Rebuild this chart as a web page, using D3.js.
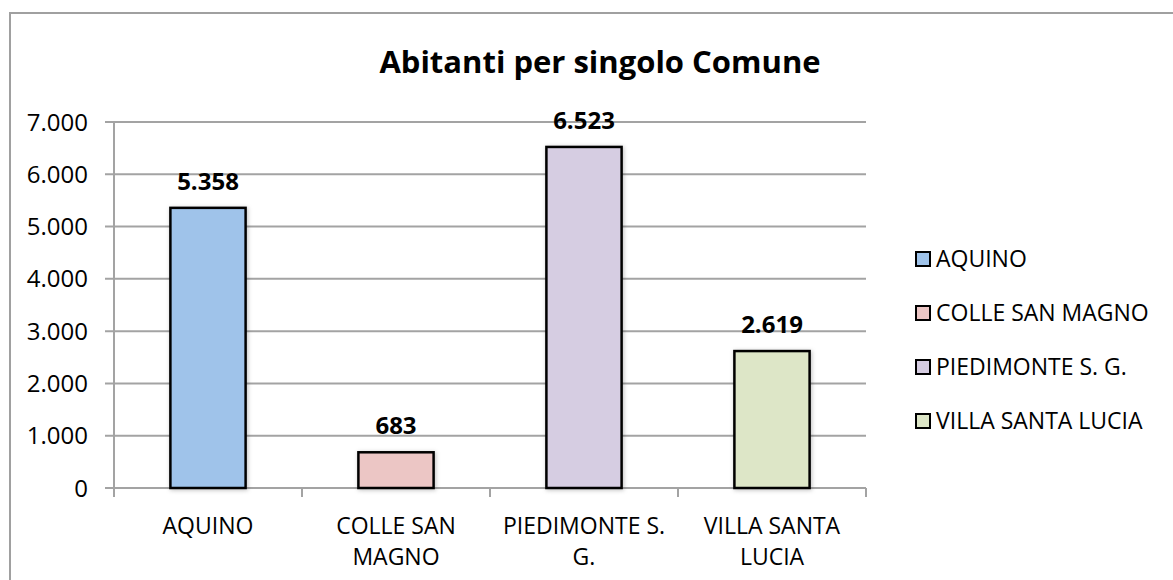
<!DOCTYPE html>
<html>
<head>
<meta charset="utf-8">
<script src="https://cdn.jsdelivr.net/npm/d3@7"></script>
<style>
    body { margin: 0; background: #fff; }
    svg text { font-family: "Open Sans", "Liberation Sans", sans-serif; fill: #000; }
</style>
</head>
<body>
<svg id="chart" width="1173" height="580"></svg>
<script>
// data
var comuni = ["AQUINO", "COLLE SAN MAGNO", "PIEDIMONTE S. G.", "VILLA SANTA LUCIA"];
var labelRows = [["AQUINO"], ["COLLE SAN", "MAGNO"], ["PIEDIMONTE S.", "G."], ["VILLA SANTA", "LUCIA"]];
var abitanti = [5358, 683, 6523, 2619];
var colori = ["#9fc3ea", "#ecc6c5", "#d6cde2", "#dde6c7"];
var yTicks = [0, 1000, 2000, 3000, 4000, 5000, 6000, 7000];

var svg = d3.select("#chart");

var fmt = function (v) {
    return d3.format(",d")(v).replace(/,/g, ".");
};

// frame
svg.append("path")
    .attr("d", "M10,580 L10,13 L1173,13")
    .style("fill", "none")
    .style("stroke", "#a0a0a0")
    .style("stroke-width", 2);

var x = d3.scaleBand()
    .domain(comuni)
    .range([114, 866])
    .paddingInner(0.6)
    .paddingOuter(0.3);

var y = d3.scaleLinear().domain([0, 7000]).range([488, 122]);

// gridlines
svg.append("g")
    .selectAll("line")
    .data(yTicks)
    .enter()
    .append("line")
    .attr("x1", 105)
    .attr("x2", 866)
    .attr("y1", (d) => y(d))
    .attr("y2", (d) => y(d))
    .style("stroke", "#a3a3a3")
    .style("stroke-width", 2);

// y axis line
svg.append("line")
    .attr("x1", 114).attr("x2", 114)
    .attr("y1", y(7000)).attr("y2", 497)
    .style("stroke", "#a3a3a3")
    .style("stroke-width", 2);

// x tick marks
var bounds = comuni.map((c) => x(c) - x.step() * x.paddingInner() / 2);
bounds.push(866);
svg.append("g")
    .selectAll("line")
    .data(bounds)
    .enter()
    .append("line")
    .attr("x1", (d) => d).attr("x2", (d) => d)
    .attr("y1", 488).attr("y2", 497)
    .style("stroke", "#a3a3a3")
    .style("stroke-width", 2);

// y tick labels
svg.append("g")
    .selectAll("text")
    .data(yTicks)
    .enter()
    .append("text")
    .attr("x", 88)
    .attr("y", (d) => y(d))
    .attr("dy", "0.36em")
    .attr("text-anchor", "end")
    .style("font-size", "24px")
    .text((d) => fmt(d));

// shadow
var defs = svg.append("defs");
var f = defs.append("filter").attr("id", "ombra").attr("x", "-20%").attr("y", "-20%").attr("width", "140%").attr("height", "140%");
f.append("feDropShadow").attr("dx", 1).attr("dy", 1).attr("stdDeviation", 2).attr("flood-color", "#000").attr("flood-opacity", 0.25);

// bars
svg.append("g")
    .selectAll("rect")
    .data(comuni)
    .enter()
    .append("rect")
    .attr("x", (d) => x(d))
    .attr("width", x.bandwidth())
    .attr("y", (d, i) => y(abitanti[i]))
    .attr("height", (d, i) => y(0) - y(abitanti[i]))
    .style("fill", (d, i) => colori[i])
    .style("stroke", "#000")
    .style("stroke-width", 2.5)
    .attr("filter", "url(#ombra)");

// value labels
svg.append("g")
    .selectAll("text")
    .data(comuni)
    .enter()
    .append("text")
    .attr("x", (d) => x(d) + x.bandwidth() / 2)
    .attr("y", (d, i) => y(abitanti[i]) - 18)
    .attr("text-anchor", "middle")
    .style("font-size", "24px")
    .style("font-weight", "bold")
    .text((d, i) => fmt(abitanti[i]));

// category labels
var cat = svg.append("g")
    .selectAll("text")
    .data(comuni)
    .enter()
    .append("text")
    .attr("x", (d) => x(d) + x.bandwidth() / 2)
    .attr("y", 534)
    .attr("text-anchor", "middle")
    .style("font-size", "23px");
cat.selectAll("tspan")
    .data((d, i) => labelRows[i])
    .enter()
    .append("tspan")
    .attr("x", function () { return d3.select(this.parentNode).attr("x"); })
    .attr("dy", (d, i) => i == 0 ? 0 : 31)
    .text((d) => d);

// title
svg.append("text")
    .attr("x", 600)
    .attr("y", 73)
    .attr("text-anchor", "middle")
    .style("font-size", "31px")
    .style("font-weight", "bold")
    .text("Abitanti per singolo Comune");

// legend
var leg = svg.append("g")
    .selectAll("g")
    .data(comuni)
    .enter()
    .append("g")
    .attr("transform", (d, i) => "translate(916," + (259 + i * 54) + ")");
leg.append("rect")
    .attr("x", 0).attr("y", -7)
    .attr("width", 14).attr("height", 14)
    .style("fill", (d, i) => colori[i])
    .style("stroke", "#000")
    .style("stroke-width", 2);
leg.append("text")
    .attr("x", 20)
    .attr("dy", "0.36em")
    .style("font-size", "23px")
    .text((d) => d);
</script>
</body>
</html>
